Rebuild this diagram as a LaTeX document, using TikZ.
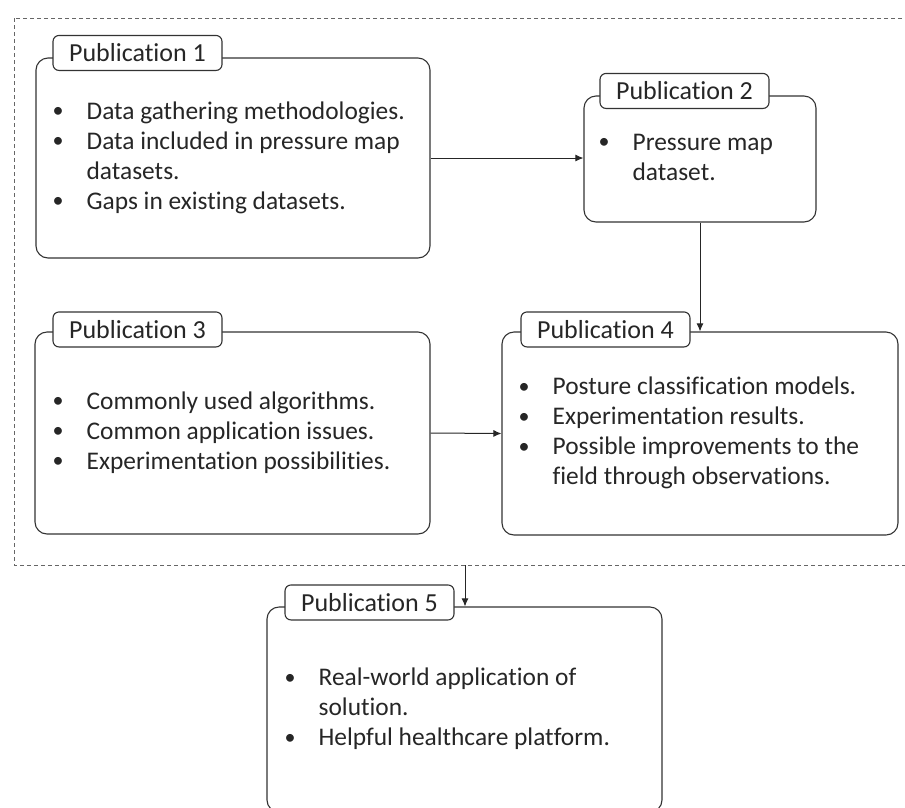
\documentclass[tikz,border=0pt]{standalone}
\usepackage{fontspec}
\setmainfont[Ligatures={NoCommon,NoDiscretionary}]{Carlito}
\usetikzlibrary{positioning,arrows.meta}

\newcommand{\pubdot}{\raisebox{1.5pt}{\fontsize{22}{22}\selectfont\textbullet}}
\newcommand{\pubitems}[1]{\begin{tabular}{@{}p{34pt}@{}l@{}}#1\end{tabular}}

\begin{document}
\begin{tikzpicture}[x=1pt,y=-1pt,
        pubbox/.style={draw=black!80, line width=1.1pt, rounded corners=12pt},
        pubtab/.style={draw=black!80, line width=1.1pt, fill=white, rounded corners=6pt,
            minimum width=169pt, minimum height=35pt, inner sep=0pt, anchor=west,
            font=\fontsize{26}{30}\selectfont, text=black!85},
        publist/.style={inner sep=0pt, anchor=west, font=\fontsize{25.4}{30}\selectfont, text=black!85},
        link/.style={draw=black!85, line width=1pt, -{Latex[length=8pt,width=7pt]}},
        frame/.style={draw=black!60, line width=0.9pt, dash pattern=on 4pt off 3pt}]
    \useasboundingbox (0,0) rectangle (905,807);

    \draw [frame] (14,18) rectangle (912,565);

    \node [pubbox, minimum width=394pt, minimum height=200pt] (p1) at (233,158) {};
    \node [pubtab] (t1) at ([xshift=17pt, yshift=4.5pt] p1.north west) {Publication 1};
    \node [publist] (l1) at ([xshift=17pt] p1.west) {\pubitems{
        \pubdot & Data gathering methodologies.\\
        \pubdot & Data included in pressure map\\
                & datasets.\\
        \pubdot & Gaps in existing datasets.}};

    \node [pubbox, minimum width=232pt, minimum height=126pt] (p2) at (700,159) {};
    \node [pubtab] (t2) at ([xshift=16pt, yshift=4.5pt] p2.north west) {Publication 2};
    \node [publist] (l2) at ([xshift=15pt] p2.west) {\pubitems{
        \pubdot & Pressure map\\
                & dataset.}};

    \node [pubbox, minimum width=395pt, minimum height=202pt] (p3) at (232.5,433) {};
    \node [pubtab] (t3) at ([xshift=18pt, yshift=2pt] p3.north west) {Publication 3};
    \node [publist] (l3) at ([xshift=18pt] p3.west) {\pubitems{
        \pubdot & Commonly used algorithms.\\
        \pubdot & Common application issues.\\
        \pubdot & Experimentation possibilities.}};

    \node [pubbox, minimum width=396pt, minimum height=203pt] (p4) at (700,433.5) {};
    \node [pubtab] (t4) at ([xshift=19pt, yshift=2pt] p4.north west) {Publication 4};
    \node [publist] (l4) at ([xshift=17pt] p4.west) {\pubitems{
        \pubdot & Posture classification models.\\
        \pubdot & Experimentation results.\\
        \pubdot & Possible improvements to the\\
                & field through observations.}};

    \node [pubbox, minimum width=395pt, minimum height=205pt] (p5) at (464.5,709.5) {};
    \node [pubtab] (t5) at ([xshift=18pt, yshift=4pt] p5.north west) {Publication 5};
    \node [publist] (l5) at ([xshift=18pt] p5.west) {\pubitems{
        \pubdot & Real-world application of\\
                & solution.\\
        \pubdot & Helpful healthcare platform.}};

    \coordinate (fb) at (465,565);

    \draw [link] (p1.east) -- (p1.east -| p2.west);
    \draw [link] (p2.south) -- (p4.north);
    \draw [link] (p3.east) -- (p4.west);
    \draw [link] (fb) -- (fb |- p5.north);
\end{tikzpicture}
\end{document}
